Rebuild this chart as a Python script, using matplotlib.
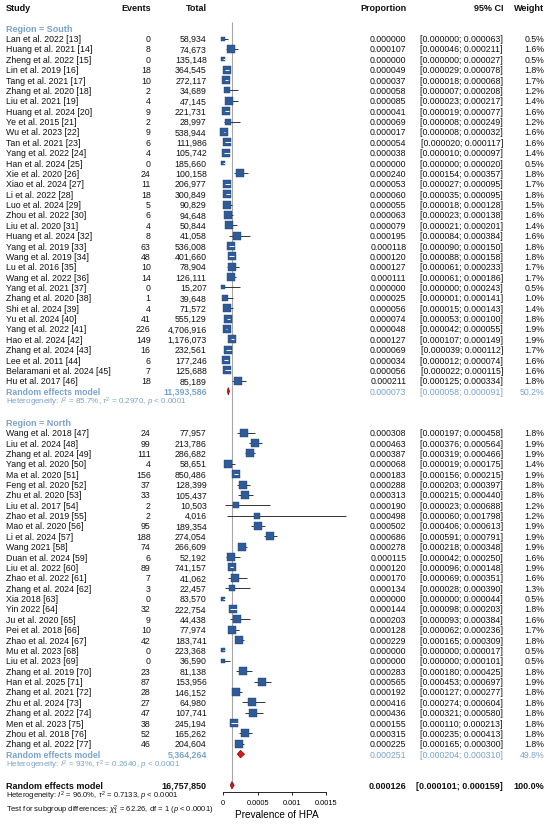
import matplotlib
matplotlib.use("Agg")
import matplotlib.pyplot as plt
import numpy as np

plt.rcParams["font.family"] = ["Liberation Sans", "DejaVu Sans"]
plt.rcParams["mathtext.fontset"] = "custom"
plt.rcParams["mathtext.rm"] = "Liberation Sans"
plt.rcParams["mathtext.it"] = "Liberation Sans:italic"
plt.rcParams["mathtext.bf"] = "Liberation Sans:bold"

# --- data ---
SOUTH_STUDIES = ["Lan et al. 2022 [13]", "Huang et al. 2021 [14]", "Zheng et al. 2022 [15]",
                 "Lin et al. 2019 [16]", "Tang et al. 2021 [17]", "Zhang et al. 2020 [18]",
                 "Liu et al. 2021 [19]", "Huang et al. 2024 [20]", "Ye et al. 2015 [21]",
                 "Wu et al. 2023 [22]", "Tan et al. 2021 [23]", "Yang et al. 2022 [24]",
                 "Han et al. 2024 [25]", "Xie et al. 2020 [26]", "Xiao et al. 2024 [27]",
                 "Li et al. 2022 [28]", "Luo et al. 2024 [29]", "Zhou et al. 2022 [30]",
                 "Liu et al. 2020 [31]", "Huang et al. 2024 [32]", "Yang et al. 2019 [33]",
                 "Wang et al. 2019 [34]", "Lu et al. 2016 [35]", "Wang et al. 2022 [36]",
                 "Yang et al. 2021 [37]", "Zhang et al. 2020 [38]", "Shi et al. 2024 [39]",
                 "Yu et al. 2024 [40]", "Yang et al. 2022 [41]", "Hao et al. 2024 [42]",
                 "Zhang et al. 2024 [43]", "Lee et al. 2011 [44]", "Belaramani et al. 2024 [45]",
                 "Hu et al. 2017 [46]"]
SOUTH_EVENTS = [0, 8, 0, 18, 10, 2, 4, 9, 2, 9, 6, 4, 0, 24, 11, 18, 5, 6, 4, 8, 63, 48, 10, 14,
                0, 1, 4, 41, 226, 149, 16, 6, 7, 18]
SOUTH_TOTAL = [58934, 74673, 135148, 364545, 272117, 34689, 47145, 221731, 28997, 538944,
               111986, 105742, 185660, 100158, 206977, 300849, 90829, 94648, 50844, 41058,
               536008, 401660, 78904, 126111, 15207, 39648, 71572, 555129, 4706916, 1176073,
               232561, 177246, 125688, 85189]
SOUTH_PROP = [0.000000, 0.000107, 0.000000, 0.000049, 0.000037, 0.000058, 0.000085, 0.000041,
              0.000069, 0.000017, 0.000054, 0.000038, 0.000000, 0.000240, 0.000053, 0.000060,
              0.000055, 0.000063, 0.000079, 0.000195, 0.000118, 0.000120, 0.000127, 0.000111,
              0.000000, 0.000025, 0.000056, 0.000074, 0.000048, 0.000127, 0.000069, 0.000034,
              0.000056, 0.000211]
SOUTH_LO = [0.000000, 0.000046, 0.000000, 0.000029, 0.000018, 0.000007, 0.000023, 0.000019,
            0.000008, 0.000008, 0.000020, 0.000010, 0.000000, 0.000154, 0.000027, 0.000035,
            0.000018, 0.000023, 0.000021, 0.000084, 0.000090, 0.000088, 0.000061, 0.000061,
            0.000000, 0.000001, 0.000015, 0.000053, 0.000042, 0.000107, 0.000039, 0.000012,
            0.000022, 0.000125]
SOUTH_HI = [0.000063, 0.000211, 0.000027, 0.000078, 0.000068, 0.000208, 0.000217, 0.000077,
            0.000249, 0.000032, 0.000117, 0.000097, 0.000020, 0.000357, 0.000095, 0.000095,
            0.000128, 0.000138, 0.000201, 0.000384, 0.000150, 0.000158, 0.000233, 0.000186,
            0.000243, 0.000141, 0.000143, 0.000100, 0.000055, 0.000149, 0.000112, 0.000074,
            0.000115, 0.000334]
SOUTH_WEIGHT = [0.5, 1.6, 0.5, 1.8, 1.7, 1.2, 1.4, 1.6, 1.2, 1.6, 1.6, 1.4, 0.5, 1.8, 1.7, 1.8,
                1.5, 1.6, 1.4, 1.6, 1.8, 1.8, 1.7, 1.7, 0.5, 1.0, 1.4, 1.8, 1.9, 1.9, 1.7, 1.6,
                1.6, 1.8]

NORTH_STUDIES = ["Wang et al. 2018 [47]", "Liu et al. 2024 [48]", "Zhang et al. 2024 [49]",
                 "Yang et al. 2020 [50]", "Ma et al. 2020 [51]", "Feng et al. 2020 [52]",
                 "Zhu et al. 2020 [53]", "Liu et al. 2017 [54]", "Zhao et al. 2019 [55]",
                 "Mao et al. 2020 [56]", "Li et al. 2024 [57]", "Wang 2021 [58]",
                 "Duan et al. 2024 [59]", "Liu et al. 2022 [60]", "Zhao et al. 2022 [61]",
                 "Zhang et al. 2024 [62]", "Xia 2018 [63]", "Yin 2022 [64]", "Ju et al. 2020 [65]",
                 "Pei et al. 2018 [66]", "Zhao et al. 2024 [67]", "Mu et al. 2023 [68]",
                 "Liu et al. 2023 [69]", "Zhang et al. 2019 [70]", "Han et al. 2025 [71]",
                 "Zhang et al. 2021 [72]", "Zhu et al. 2024 [73]", "Zhang et al. 2022 [74]",
                 "Men et al. 2023 [75]", "Zhou et al. 2018 [76]", "Zhang et al. 2022 [77]"]
NORTH_EVENTS = [24, 99, 111, 4, 156, 37, 33, 2, 2, 95, 188, 74, 6, 89, 7, 3, 0, 32, 9, 10, 42,
                0, 0, 23, 87, 28, 27, 47, 38, 52, 46]
NORTH_TOTAL = [77957, 213786, 286682, 58651, 850486, 128399, 105437, 10503, 4016, 189354,
               274054, 266609, 52192, 741157, 41062, 22457, 83570, 222754, 44438, 77974,
               183741, 223368, 36590, 81138, 153956, 146152, 64980, 107741, 245194, 165262,
               204604]
NORTH_PROP = [0.000308, 0.000463, 0.000387, 0.000068, 0.000183, 0.000288, 0.000313, 0.000190,
              0.000498, 0.000502, 0.000686, 0.000278, 0.000115, 0.000120, 0.000170, 0.000134,
              0.000000, 0.000144, 0.000203, 0.000128, 0.000229, 0.000000, 0.000000, 0.000283,
              0.000565, 0.000192, 0.000416, 0.000436, 0.000155, 0.000315, 0.000225]
NORTH_LO = [0.000197, 0.000376, 0.000319, 0.000019, 0.000156, 0.000203, 0.000215, 0.000023,
            0.000060, 0.000406, 0.000591, 0.000218, 0.000042, 0.000096, 0.000069, 0.000028,
            0.000000, 0.000098, 0.000093, 0.000062, 0.000165, 0.000000, 0.000000, 0.000180,
            0.000453, 0.000127, 0.000274, 0.000321, 0.000110, 0.000235, 0.000165]
NORTH_HI = [0.000458, 0.000564, 0.000466, 0.000175, 0.000215, 0.000397, 0.000440, 0.000688,
            0.001798, 0.000613, 0.000791, 0.000348, 0.000250, 0.000148, 0.000351, 0.000390,
            0.000044, 0.000203, 0.000384, 0.000236, 0.000309, 0.000017, 0.000101, 0.000425,
            0.000697, 0.000277, 0.000604, 0.000580, 0.000213, 0.000413, 0.000300]
NORTH_WEIGHT = [1.8, 1.9, 1.9, 1.4, 1.9, 1.8, 1.8, 1.2, 1.2, 1.9, 1.9, 1.9, 1.6, 1.9, 1.6, 1.3,
                0.5, 1.8, 1.6, 1.7, 1.8, 0.5, 0.5, 1.8, 1.9, 1.8, 1.8, 1.8, 1.8, 1.8, 1.8]

# pooled estimates: (total, estimate, lower, upper, weight)
SOUTH_RE = (11393586, 0.000073, 0.000058, 0.000091, 50.2)
NORTH_RE = (5364264, 0.000251, 0.000204, 0.000310, 49.8)
OVERALL_RE = (16757850, 0.000126, 0.000101, 0.000159, 100.0)
SOUTH_HET = r"Heterogeneity: $I^2$ = 85.7%, $\tau^2$ = 0.2970, $p$ < 0.0001"
NORTH_HET = r"Heterogeneity: $I^2$ = 93%, $\tau^2$ = 0.2640, $p$ < 0.0001"
OVERALL_HET = r"Heterogeneity: $I^2$ = 96.0%, $\tau^2$ = 0.7133, $p$ < 0.0001"
SUBGROUP_TEST = r"Test for subgroup differences: $\chi^2_1$ = 62.26, df = 1 ($p$ < 0.0001)"
X_TICKS = [0, 0.0005, 0.001, 0.0015]
X_TICK_LABELS = ["0", "0.0005", "0.001", "0.0015"]

# --- layout (pixels of the 550x828 output) ---
W_PX, H_PX = 550, 828
ROW0_PX, ROW_H = 8.5, 10.37
X0_PX, SCALE = 223.3, 68500.0           # pixel of value 0, pixels per unit
XLIM = (-0.0002, 0.0020)
AX_BOTTOM_PX = 793
STUDY_X, EVENTS_X, TOTAL_X = 6, 150.7, 206.7
PROP_X, CI_X, WEIGHT_X = 406.5, 503, 544.5
FS = 6.3
BLUE_TXT = "#7aa3c7"
BOX_COL = "#2f5b98"
LINE_COL = "#333333"


def row_of(px):
    return (px - ROW0_PX) / ROW_H


fig = plt.figure(figsize=(W_PX / 100, H_PX / 100), dpi=100)

tax = fig.add_axes([0, 0, 1, 1])
tax.set_xlim(0, W_PX)
tax.set_ylim(row_of(H_PX), row_of(0))
tax.axis("off")

left_px = X0_PX + XLIM[0] * SCALE
right_px = X0_PX + XLIM[1] * SCALE
fax = fig.add_axes([left_px / W_PX, (H_PX - AX_BOTTOM_PX) / H_PX,
                    (right_px - left_px) / W_PX, AX_BOTTOM_PX / H_PX])
fax.set_xlim(*XLIM)
fax.set_ylim(row_of(AX_BOTTOM_PX), row_of(0))
fax.patch.set_alpha(0)
for s in ["top", "left", "right"]:
    fax.spines[s].set_visible(False)
fax.spines["bottom"].set_bounds(X_TICKS[0], X_TICKS[-1])
fax.spines["bottom"].set_linewidth(0.6)
fax.set_yticks([])
fax.set_xticks(X_TICKS)
fax.set_xticklabels(X_TICK_LABELS)
fax.tick_params(axis="x", labelsize=5.3, length=2.5, width=0.6, pad=2.5)
fax.set_xlabel("Prevalence of HPA", fontsize=7.2)
fax.xaxis.set_label_coords((0.00078 - XLIM[0]) / (XLIM[1] - XLIM[0]), -0.021)


def txt(x, r, s, ha="left", bold=False, color="#111111", size=FS):
    tax.text(x, r, s, ha=ha, va="center", fontsize=size, color=color,
             fontweight="bold" if bold else "normal")


# header
for x, s, ha in [(STUDY_X, "Study", "left"), (EVENTS_X, "Events", "right"),
                 (TOTAL_X, "Total", "right"), (PROP_X, "Proportion", "right"),
                 (CI_X, "95% CI", "right"), (WEIGHT_X, "Weight", "right")]:
    txt(x, 0, s, ha=ha, bold=True, size=6.5)


def draw_diamond(r, est, lo, hi, h=0.36):
    fax.fill([lo, est, hi, est], [r, r - h, r, r + h], facecolor="#e0161e",
             edgecolor="#6b0a0a", linewidth=0.5, zorder=5, clip_on=False)


def draw_group(label, start_row, studies, events, totals, props, los, his, weights, pooled, het):
    txt(STUDY_X, start_row, label, bold=True, color=BLUE_TXT, size=6.5)
    rows = np.arange(len(studies)) + start_row + 1
    for r, name, ev, tot, p, lo, hi, w in zip(rows, studies, events, totals, props, los, his, weights):
        txt(STUDY_X, r, name)
        txt(EVENTS_X, r, f"{ev}", ha="right")
        txt(TOTAL_X, r, f"{tot:,}", ha="right")
        txt(PROP_X, r, f"{p:.6f}", ha="right")
        txt(CI_X, r, f"[{lo:.6f}; {hi:.6f}]", ha="right")
        txt(WEIGHT_X, r, f"{w:.1f}%", ha="right")

        # square side grows with sqrt(weight); CI drawn white when it fits inside the box
        side_px = 6.0 * np.sqrt(w)
        inside = (hi - lo) * SCALE < side_px
        fax.hlines(r, lo, hi, color="white" if inside else LINE_COL, lw=0.7,
                   zorder=4 if inside else 2, clip_on=False)
        side_pt = side_px * 72 / 100
        fax.scatter([p], [r], marker="s", s=side_pt ** 2, color=BOX_COL,
                    edgecolors="#1f3f70", linewidths=0.3, zorder=3, clip_on=False)

    re_row = rows[-1] + 1
    tot, est, lo, hi, w = pooled
    txt(STUDY_X, re_row, "Random effects model", bold=True, color=BLUE_TXT)
    txt(TOTAL_X, re_row, f"{tot:,}", ha="right", bold=True, color=BLUE_TXT)
    txt(PROP_X, re_row, f"{est:.6f}", ha="right", color=BLUE_TXT)
    txt(CI_X, re_row, f"[{lo:.6f}; {hi:.6f}]", ha="right", color=BLUE_TXT)
    txt(WEIGHT_X, re_row, f"{w:.1f}%", ha="right", color=BLUE_TXT)
    draw_diamond(re_row, est, lo, hi)
    txt(STUDY_X, re_row + 1, het, color=BLUE_TXT, size=5.8)
    return re_row + 1


end_s = draw_group("Region = South", 2, SOUTH_STUDIES, SOUTH_EVENTS, SOUTH_TOTAL, SOUTH_PROP,
                   SOUTH_LO, SOUTH_HI, SOUTH_WEIGHT, SOUTH_RE, SOUTH_HET)
end_n = draw_group("Region = North", end_s + 2, NORTH_STUDIES, NORTH_EVENTS, NORTH_TOTAL,
                   NORTH_PROP, NORTH_LO, NORTH_HI, NORTH_WEIGHT, NORTH_RE, NORTH_HET)

ov_row = end_n + 2
tot, est, lo, hi, w = OVERALL_RE
txt(STUDY_X, ov_row, "Random effects model", bold=True, size=6.5)
txt(TOTAL_X, ov_row, f"{tot:,}", ha="right", bold=True, size=6.5)
txt(PROP_X, ov_row, f"{est:.6f}", ha="right", bold=True, size=6.5)
txt(CI_X, ov_row, f"[{lo:.6f}; {hi:.6f}]", ha="right", bold=True, size=6.5)
txt(WEIGHT_X, ov_row, f"{w:.1f}%", ha="right", bold=True, size=6.5)
draw_diamond(ov_row, est, lo, hi)
txt(STUDY_X, ov_row + 0.95, OVERALL_HET, size=5.5)
txt(STUDY_X, ov_row + 2.3, SUBGROUP_TEST, size=5.5)

# reference line at the overall estimate
fax.vlines(est, 1.4, ov_row - 0.4, color="#a6a6a6", lw=0.8, zorder=1)

fig.savefig("out.png", dpi=100)
